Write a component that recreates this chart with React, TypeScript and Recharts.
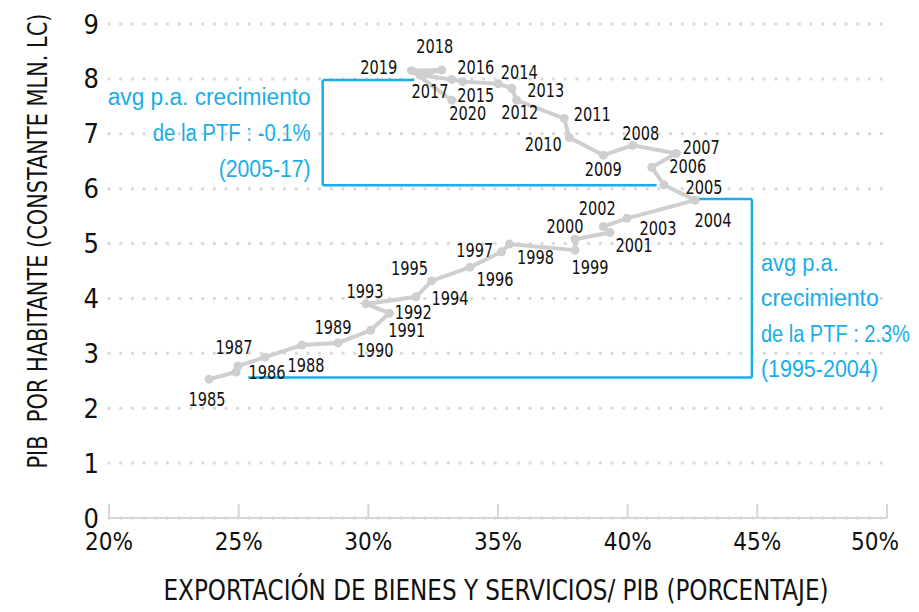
import React from 'react';
import {
  LineChart,
  Line,
  XAxis,
  YAxis,
  CartesianGrid,
  ReferenceLine,
  ReferenceDot,
  LabelList,
} from 'recharts';

// ---------- data ----------
const years = [
  1985, 1986, 1987, 1988, 1989, 1990, 1991, 1992, 1993, 1994,
  1995, 1996, 1997, 1998, 1999, 2000, 2001, 2002, 2003, 2004,
  2005, 2006, 2007, 2008, 2009, 2010, 2011, 2012, 2013, 2014,
  2015, 2016, 2017, 2018, 2019, 2020,
];
// Exportación de bienes y servicios / PIB (%)
const exportShare = [
  23.86, 24.9, 24.97, 26.02, 27.44, 28.83, 30.09, 30.81, 29.91, 31.84,
  32.44, 33.92, 35.14, 35.44, 37.97, 37.97, 39.32, 39.06, 39.97, 42.6,
  41.4, 40.93, 41.87, 40.2, 39.06, 37.75, 37.55, 35.72, 35.53, 35.01,
  33.64, 33.22, 31.99, 32.83, 31.67, 33.22,
];
// PIB por habitante (constante mln. LC)
const gdpPerCapita = [
  2.53, 2.66, 2.77, 2.93, 3.15, 3.19, 3.42, 3.73, 3.9, 4.03,
  4.32, 4.57, 4.85, 4.99, 4.88, 5.08, 5.2, 5.31, 5.46, 5.79,
  6.07, 6.39, 6.64, 6.79, 6.61, 6.93, 7.28, 7.61, 7.83, 7.91,
  7.95, 7.99, 8.07, 8.16, 8.15, 7.61,
];
const xTicks = [20, 25, 30, 35, 40, 45, 50];
const yTicks = [0, 1, 2, 3, 4, 5, 6, 7, 8, 9];

// bracket for 2005-17 period (x %, y value)
const bracketTopX = [31.76, 28.24, 28.24, 41.12];
const bracketTopY = [7.98, 7.98, 6.06, 6.06];
// bracket for 1995-2004 period
const bracketBottomX = [42.6, 44.79, 44.79, 25.37];
const bracketBottomY = [5.81, 5.81, 2.56, 2.56];

const noteTop = ['avg p.a. crecimiento', 'de la PTF : -0.1%', '(2005-17)'];
const noteBottom = ['avg p.a.', 'crecimiento', 'de la PTF : 2.3%', '(1995-2004)'];

const xTitle = 'EXPORTACIÓN DE BIENES Y SERVICIOS/ PIB (PORCENTAJE)';
const yTitle = 'PIB  POR HABITANTE (CONSTANTE MLN. LC)';

// ---------- layout / style ----------
const NARROW = "'Liberation Sans Narrow', 'DejaVu Sans Condensed', 'Liberation Sans', sans-serif";
const REGULAR = "'Liberation Sans', 'DejaVu Sans', sans-serif";
const BLUE = '#19aee8';
const GREY = '#cfcfcf';
const INK = '#111111';

// rendered widths of the note lines
const NOTE_TOP_WIDTHS = [203, 158, 92];
const NOTE_BOTTOM_WIDTHS = [78, 118, 149, 117];

// label offset (dx, dy) of each year label relative to its point
const LABEL_OFFSETS: Record<number, [number, number]> = {
  1985: [-2, 20], 1986: [31, 0], 1987: [-4, -19], 1988: [41, 8], 1989: [31, -18],
  1990: [37, 7], 1991: [36, 0], 1992: [24, -1], 1993: [-1, -13], 1994: [34, 1],
  1995: [-22, -13], 1996: [25, 12], 1997: [-27, -2], 1998: [26, 13], 1999: [15, 17],
  2000: [-10, -13], 2001: [24, 12], 2002: [-6, -19], 2003: [31, 10], 2004: [18, 20],
  2005: [40, 2], 2006: [36, -1], 2007: [25, -7], 2008: [8, -12], 2009: [0, 14],
  2010: [-26, 6], 2011: [28, -4], 2012: [3, 12], 2013: [34, 2], 2014: [21, -12],
  2015: [13, 13], 2016: [24, -12], 2017: [10, 16], 2018: [-7, -24], 2019: [-33, -4],
  2020: [16, 13],
};

const data = years.map((year, i) => ({ year, x: exportShare[i], y: gdpPerCapita[i] }));

const segmentsOf = (xs: number[], ys: number[]) =>
  xs.slice(1).map((_, i) => [
    { x: xs[i], y: ys[i] },
    { x: xs[i + 1], y: ys[i + 1] },
  ]);

const XTick = (props: any) => {
  const { x, y, payload } = props;
  const shift = payload.value === 50 ? -12 : 0;
  return (
    <g>
      <line x1={x} x2={x} y1={y - 14} y2={y} stroke="#d6d6d6" strokeWidth={2} />
      <text
        x={x + shift}
        y={y + 32}
        textAnchor="middle"
        fontSize={24}
        fill={INK}
        fontFamily={NARROW}
      >
        {payload.value}%
      </text>
    </g>
  );
};

const YearLabel = (props: any) => {
  const { x, y, value } = props;
  const off = LABEL_OFFSETS[value] || [0, -14];
  return (
    <text
      x={x + off[0]}
      y={y + off[1]}
      textAnchor="middle"
      dominantBaseline="central"
      fontSize={20}
      fill={INK}
      fontFamily={NARROW}
      textLength={37}
      lengthAdjust="spacingAndGlyphs"
    >
      {value}
    </text>
  );
};

const noteTopContent = (props: any) => {
  const vb = props.viewBox || {};
  const x = vb.x + (vb.width || 0) / 2 - 12;
  const y = vb.y + (vb.height || 0) / 2;
  return (
    <g>
      {noteTop.map((t, i) => (
        <text
          key={i}
          x={x}
          y={y + 25 + i * 36}
          textAnchor="end"
          fontSize={23}
          fill={BLUE}
          fontFamily={REGULAR}
          textLength={NOTE_TOP_WIDTHS[i]}
          lengthAdjust="spacingAndGlyphs"
        >
          {t}
        </text>
      ))}
    </g>
  );
};

const noteBottomContent = (props: any) => {
  const vb = props.viewBox || {};
  const x = vb.x + (vb.width || 0) / 2 + 9;
  const y = vb.y + (vb.height || 0) / 2;
  const n = noteBottom.length;
  return (
    <g>
      {noteBottom.map((t, i) => (
        <text
          key={i}
          x={x}
          y={y - (n - 1 - i) * 35.6}
          textAnchor="start"
          fontSize={23}
          fill={BLUE}
          fontFamily={REGULAR}
          textLength={NOTE_BOTTOM_WIDTHS[i]}
          lengthAdjust="spacingAndGlyphs"
        >
          {t}
        </text>
      ))}
    </g>
  );
};

export default function App() {
  const W = 919;
  const H = 612;
  const margin = { top: 24, right: 32, bottom: 0, left: 0 };
  const yAxisW = 109;
  const xAxisH = 94;
  const plotLeft = margin.left + yAxisW;
  const plotRight = W - margin.right;
  const plotTop = margin.top;
  const plotBottom = H - margin.bottom - xAxisH;
  const yTitleCy = (plotTop + plotBottom) / 2 - 30;

  return (
    <div style={{ position: 'absolute', left: 0, top: 0, width: W, height: H, background: '#fff' }}>
      <LineChart width={W} height={H} data={data} margin={margin}>
        <CartesianGrid
          vertical={false}
          stroke="#dadada"
          strokeWidth={3.5}
          strokeDasharray="0 11.7"
          strokeLinecap="round"
        />
        <XAxis
          dataKey="x"
          type="number"
          domain={[20, 50]}
          ticks={xTicks}
          height={xAxisH}
          interval={0}
          tickSize={0}
          tickMargin={0}
          tickLine={false}
          axisLine={{ stroke: '#d6d6d6', strokeWidth: 2 }}
          tick={<XTick />}
        />
        <YAxis
          dataKey="y"
          type="number"
          domain={[0, 9]}
          ticks={yTicks}
          width={yAxisW}
          interval={0}
          tickSize={0}
          tickMargin={10}
          tickLine={false}
          axisLine={false}
          tick={{ fontSize: 27, fill: INK, fontFamily: NARROW }}
        />
        {segmentsOf(bracketTopX, bracketTopY).map((seg, i) => (
          <ReferenceLine
            key={'t' + i}
            segment={seg}
            stroke={BLUE}
            strokeWidth={2.5}
            ifOverflow="visible"
          />
        ))}
        {segmentsOf(bracketBottomX, bracketBottomY).map((seg, i) => (
          <ReferenceLine
            key={'b' + i}
            segment={seg}
            stroke={BLUE}
            strokeWidth={2.5}
            ifOverflow="visible"
          />
        ))}
        <ReferenceDot
          x={bracketTopX[1]}
          y={bracketTopY[1]}
          r={0}
          fill="none"
          stroke="none"
          ifOverflow="visible"
          label={{ content: noteTopContent }}
        />
        <ReferenceDot
          x={bracketBottomX[2]}
          y={bracketBottomY[2]}
          r={0}
          fill="none"
          stroke="none"
          ifOverflow="visible"
          label={{ content: noteBottomContent }}
        />
        <Line
          dataKey="y"
          stroke={GREY}
          strokeWidth={4}
          dot={{ r: 4.5, fill: GREY, stroke: GREY, strokeWidth: 0 }}
          activeDot={false}
          isAnimationActive={false}
        >
          <LabelList dataKey="year" content={<YearLabel />} />
        </Line>
      </LineChart>
      <svg
        width={W}
        height={H}
        style={{ position: 'absolute', left: 0, top: 0, pointerEvents: 'none' }}
      >
        <text
          x={(plotLeft + plotRight) / 2 - 2}
          y={plotBottom + 82}
          textAnchor="middle"
          fontSize={28}
          fill={INK}
          fontFamily={NARROW}
          textLength={665}
          lengthAdjust="spacingAndGlyphs"
        >
          {xTitle}
        </text>
        <text
          x={47}
          y={yTitleCy}
          transform={`rotate(-90 47 ${yTitleCy})`}
          textAnchor="middle"
          fontSize={27}
          fill={INK}
          fontFamily={NARROW}
          textLength={455}
          lengthAdjust="spacingAndGlyphs"
          style={{ whiteSpace: 'pre' }}
        >
          {yTitle}
        </text>
      </svg>
    </div>
  );
}
